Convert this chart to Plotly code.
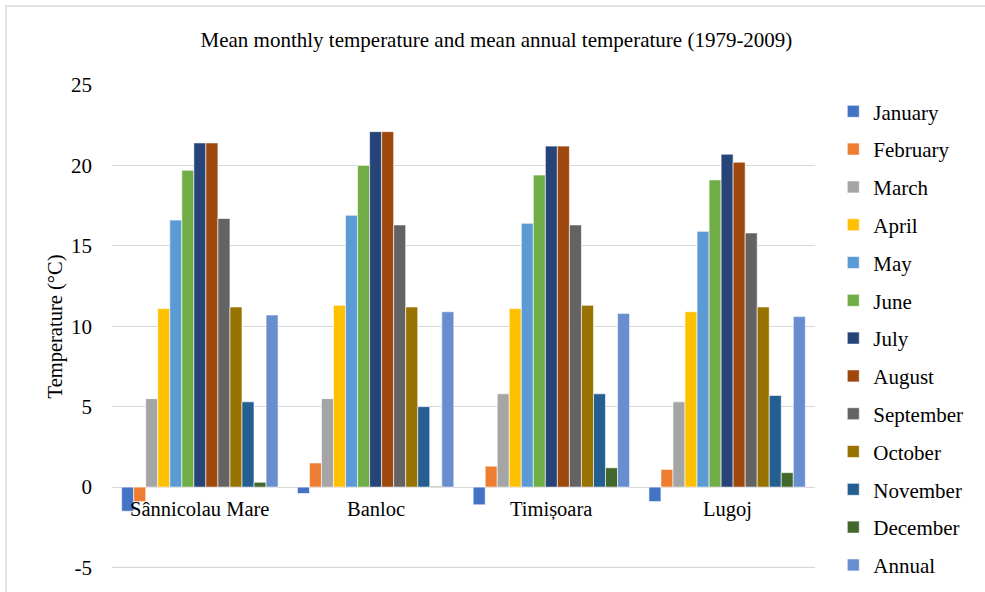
import plotly.graph_objects as go

stations = ["Sânnicolau Mare", "Banloc", "Timișoara", "Lugoj"]
series_names = ["January", "February", "March", "April", "May", "June", "July",
                "August", "September", "October", "November", "December", "Annual"]
colors = ["#4472C4", "#ED7D31", "#A5A5A5", "#FFC000", "#5B9BD5", "#70AD47", "#264478",
          "#9E480E", "#636363", "#997300", "#255E91", "#43682B", "#698ED0"]

january = [-1.5, -0.4, -1.1, -0.9]
february = [-0.9, 1.5, 1.3, 1.1]
march = [5.5, 5.5, 5.8, 5.3]
april = [11.1, 11.3, 11.1, 10.9]
may = [16.6, 16.9, 16.4, 15.9]
june = [19.7, 20.0, 19.4, 19.1]
july = [21.4, 22.1, 21.2, 20.7]
august = [21.4, 22.1, 21.2, 20.2]
september = [16.7, 16.3, 16.3, 15.8]
october = [11.2, 11.2, 11.3, 11.2]
november = [5.3, 5.0, 5.8, 5.7]
december = [0.3, 0.05, 1.2, 0.9]
annual = [10.7, 10.9, 10.8, 10.6]

values = [january, february, march, april, may, june, july, august,
          september, october, november, december, annual]

yticks = [-5, 0, 5, 10, 15, 20, 25]

FONT = "Liberation Serif, Times New Roman, serif"

fig = go.Figure()
for name, col, vals in zip(series_names, colors, values):
    fig.add_trace(go.Bar(
        x=stations, y=vals, name=name, legendgroup=name,
        marker=dict(color=col, line=dict(color="white", width=0.6)),
    ))

for s in stations:
    fig.add_annotation(x=s, y=0, xref="x", yref="y", text=s, showarrow=False,
                       yanchor="top", yshift=-9, font=dict(family=FONT, size=20.5, color="#000"))

fig.update_layout(
    width=985, height=592,
    margin=dict(l=112, r=170, t=85, b=24, autoexpand=False),
    paper_bgcolor="white", plot_bgcolor="white",
    barmode="group", bargap=0.11, bargroupgap=0,
    font=dict(family=FONT, size=21, color="#000"),
    title=dict(text="Mean monthly temperature and mean annual temperature (1979-2009)",
               x=0.504, xref="container", xanchor="center", y=0.933, yanchor="middle",
               font=dict(family=FONT, size=21, color="#000")),
    xaxis=dict(showticklabels=False, showgrid=False, zeroline=False, showline=False),
    yaxis=dict(range=[-5.03, 25], tickvals=yticks, ticktext=[str(v) for v in yticks],
               showgrid=True, gridcolor="#D9D9D9", gridwidth=1.3,
               zeroline=True, zerolinecolor="#D9D9D9", zerolinewidth=1.3,
               showline=False, ticks="", ticklabelstandoff=19,
               title=dict(text="Temperature (°C)", standoff=2,
                          font=dict(family=FONT, size=20.5)),
               tickfont=dict(family=FONT, size=21)),
    legend=dict(x=1.026, xanchor="left", yref="container", y=0.846, yanchor="top",
                traceorder="grouped", tracegroupgap=7.5, maxheight=700,
                font=dict(family=FONT, size=21), itemwidth=30),
    showlegend=True,
)

fig.add_shape(type="line", xref="paper", yref="y", x0=0, x1=1, y0=yticks[0], y1=yticks[0],
              line=dict(color="#D9D9D9", width=1.3), layer="below")

fig.add_shape(type="rect", xref="paper", yref="paper",
              x0=(6 - 112) / 703, x1=(995 - 112) / 703,
              y0=(568 - 600) / 483, y1=(568 - 6) / 483,
              line=dict(color="#D9D9D9", width=1.5), layer="below")

fig.write_html("out.html")
